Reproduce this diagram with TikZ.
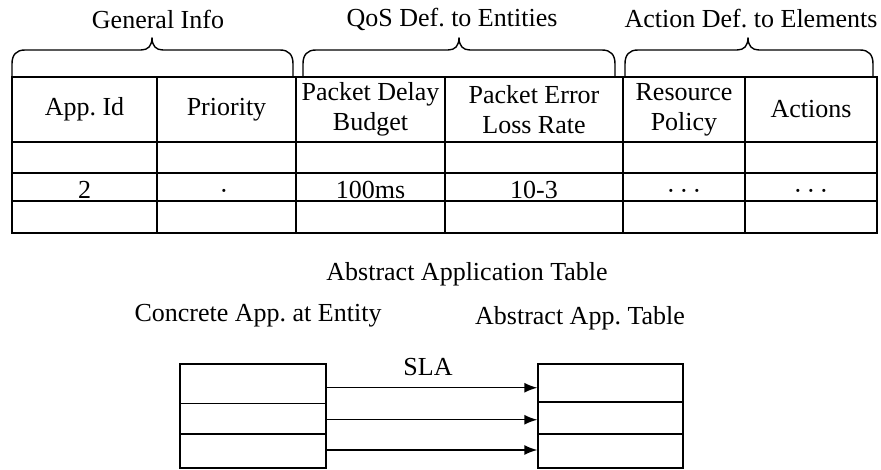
\documentclass[tikz,border=0pt]{standalone}
\usepackage{fontspec}
\setmainfont{Liberation Serif}
\usetikzlibrary{arrows.meta}
\frenchspacing
\tikzset{
  cell/.style={draw, line width=1.4pt, inner sep=0pt, align=center, font=\fontsize{26}{30}\selectfont},
  txt/.style={inner sep=0pt, font=\fontsize{26}{30}\selectfont},
  brace/.style={draw, line width=1.4pt},
  conn/.style={line width=1.4pt, -{Latex[length=13pt,width=10pt]}},
}
\newcommand\mybrace[3]{%
  \draw[brace] (#1,77) -- (#1,64) .. controls (#1,55) and (#1+4,50) .. (#1+13,50)
    -- (#3-11,50) .. controls (#3-4,50) and (#3,46) .. (#3,37.5)
    .. controls (#3,46) and (#3+4,50) .. (#3+11,50)
    -- (#2-13,50) .. controls (#2-4,50) and (#2,55) .. (#2,64) -- (#2,77);}
\begin{document}
\begin{tikzpicture}[x=1pt,y=-1pt]
\useasboundingbox (0,0) rectangle (881,470);
% group labels
\node[txt] (g1) at (158,19) {General Info};
\node[txt] (g2) at (452,19) {QoS Def. to Entities};
\node[txt] (g3) at (751,19) {Action Def. to Elements};
\mybrace{12}{293}{152}
\mybrace{303}{615}{459}
\mybrace{625}{873}{748}
% header row
\node[cell, minimum width=145pt, minimum height=65pt] (h1) at (84.5,109.5) {App. Id};
\node[cell, minimum width=139pt, minimum height=65pt] (h2) at (226.5,109.5) {Priority};
\node[cell, minimum width=149pt, minimum height=65pt] (h3) at (370.5,109.5) {Packet Delay\\Budget};
\node[cell, minimum width=178pt, minimum height=65pt] (h4) at (534,109.5) {Packet Error\\Loss Rate};
\node[cell, minimum width=122pt, minimum height=65pt] (h5) at (684,109.5) {Resource\\Policy};
\node[cell, minimum width=132pt, minimum height=65pt] (h6) at (811,109.5) {Actions};
% row 2
\node[cell, minimum width=145pt, minimum height=31pt] (a1) at (84.5,157.5) {};
\node[cell, minimum width=139pt, minimum height=31pt] (a2) at (226.5,157.5) {};
\node[cell, minimum width=149pt, minimum height=31pt] (a3) at (370.5,157.5) {};
\node[cell, minimum width=178pt, minimum height=31pt] (a4) at (534,157.5) {};
\node[cell, minimum width=122pt, minimum height=31pt] (a5) at (684,157.5) {};
\node[cell, minimum width=132pt, minimum height=31pt] (a6) at (811,157.5) {};
% row 3
\node[cell, minimum width=145pt, minimum height=28pt] (b1) at (84.5,187) {};
\node[cell, minimum width=139pt, minimum height=28pt] (b2) at (226.5,187) {};
\node[cell, minimum width=149pt, minimum height=28pt] (b3) at (370.5,187) {};
\node[cell, minimum width=178pt, minimum height=28pt] (b4) at (534,187) {};
\node[cell, minimum width=122pt, minimum height=28pt] (b5) at (684,187) {};
\node[cell, minimum width=132pt, minimum height=28pt] (b6) at (811,187) {};
\node[txt, anchor=base] (v1) at (84.5,199) {2};
\node[txt, anchor=base] (v2) at (224,200) {·};
\node[txt, anchor=base] (v3) at (370.5,199) {100ms};
\node[txt, anchor=base] (v4) at (534,199) {10-3};
\node[txt, anchor=base] (v5) at (684,200) {·\,·\,·};
\node[txt, anchor=base] (v6) at (811,200) {·\,·\,·};
% row 4
\node[cell, minimum width=145pt, minimum height=32pt] (c1) at (84.5,217) {};
\node[cell, minimum width=139pt, minimum height=32pt] (c2) at (226.5,217) {};
\node[cell, minimum width=149pt, minimum height=32pt] (c3) at (370.5,217) {};
\node[cell, minimum width=178pt, minimum height=32pt] (c4) at (534,217) {};
\node[cell, minimum width=122pt, minimum height=32pt] (c5) at (684,217) {};
\node[cell, minimum width=132pt, minimum height=32pt] (c6) at (811,217) {};
% caption and bottom diagram
\node[txt] (cap) at (467,274) {Abstract Application Table};
\node[txt] (lt) at (258,316) {Concrete App. at Entity};
\node[txt] (rt) at (580,318) {Abstract App. Table};
\node[txt] (sla) at (428,367) {SLA};
\node[cell, minimum width=146pt, minimum height=39.5pt] (L1) at (253,383.75) {};
\node[cell, minimum width=146pt, minimum height=30.5pt] (L2) at (253,418.75) {};
\node[cell, minimum width=146pt, minimum height=34pt] (L3) at (253,451) {};
\node[cell, minimum width=145pt, minimum height=38pt] (R1) at (610.5,383) {};
\node[cell, minimum width=145pt, minimum height=32pt] (R2) at (610.5,418) {};
\node[cell, minimum width=145pt, minimum height=34pt] (R3) at (610.5,451) {};
\draw[conn] ([yshift=-4pt]L1.east) -- ([yshift=-4pt]L1.east -| R1.west);
\draw[conn] ([yshift=-1pt]L2.east) -- ([yshift=-1pt]L2.east -| R2.west);
\draw[conn] ([yshift=1pt]L3.east) -- ([yshift=1pt]L3.east -| R3.west);
\end{tikzpicture}
\end{document}
